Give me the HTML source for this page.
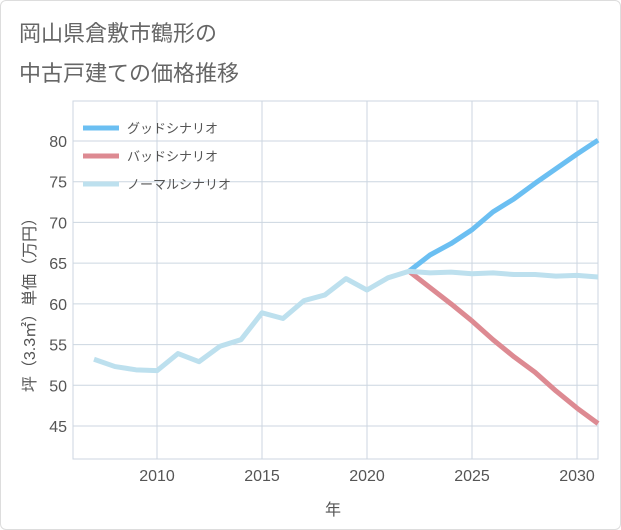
<!DOCTYPE html>
<html><head><meta charset="utf-8"><style>
body{margin:0;background:#fff;font-family:"Liberation Sans","Noto Sans CJK JP",sans-serif}
#wrap{width:619px;height:528px;border:1px solid #ddd;position:relative;border-radius:6px;overflow:hidden}
</style></head><body>
<div id="wrap">
<svg id="c" width="621" height="530">
<text x="18" y="40" font-size="22" fill="#666">岡山県倉敷市鶴形の</text>
<text x="18" y="80" font-size="22" fill="#666">中古戸建ての価格推移</text>
<g id="grid"></g><g id="series"></g><g id="legend"></g>
<text x="332" y="514" font-size="16" fill="#555" text-anchor="middle">年</text>
<text transform="translate(34,300) rotate(-90)" font-size="16" fill="#555" text-anchor="middle">坪（3.3㎡）単価（万円）</text>
</svg></div>
<script>
const years=[2007,2008,2009,2010,2011,2012,2013,2014,2015,2016,2017,2018,2019,2020,2021,2022,2023,2024,2025,2026,2027,2028,2029,2030,2031];
const normal=[53.2,52.3,51.9,51.8,53.9,52.9,54.8,55.6,58.9,58.2,60.4,61.1,63.1,61.7,63.2,64.0,63.8,63.9,63.7,63.8,63.6,63.6,63.4,63.5,63.3];
const goodYears=[2022,2023,2024,2025,2026,2027,2028,2029,2030,2031];
const good=[64.0,66.0,67.4,69.1,71.3,72.9,74.8,76.6,78.4,80.1];
const bad=[64.0,62.0,60.0,57.9,55.6,53.5,51.6,49.3,47.2,45.3];
const xTicks=[2010,2015,2020,2025,2030];
const yTicks=[45,50,55,60,65,70,75,80];
const L=72,R=597,T=100,B=458;
const x=v=>L+(v-2006)*21;
const y=v=>140+(80-v)*8.143;
const NS='http://www.w3.org/2000/svg';
function mk(p,t,a){const e=document.createElementNS(NS,t);for(const k in a)e.setAttribute(k,a[k]);p.appendChild(e);return e;}
const g=document.getElementById('grid');
const frame=mk(g,'rect',{x:L,y:T,width:R-L,height:B-T,fill:'none',stroke:'#ccd6e0'});


xTicks.forEach(t=>{
 const l=mk(g,'line',{x1:x(t),x2:x(t),y1:T,y2:B,stroke:'#ccd6e0'});
 
 
 const tx=mk(g,'text',{x:x(t),y:B+22,'font-size':16,fill:'#555','text-anchor':'middle'});tx.textContent=t;
 
 
});
yTicks.forEach(t=>{
 const l=mk(g,'line',{x1:L,x2:R,y1:y(t),y2:y(t),stroke:'#ccd6e0'});
 
 
 const tx=mk(g,'text',{x:L-6,y:y(t)+6,'font-size':16,fill:'#555','text-anchor':'end'});tx.textContent=t;
 
 
});
const s=document.getElementById('series');
function line(xs,vs,col,name){
 const p=mk(s,'polyline',{points:xs.map((v,i)=>x(v)+','+y(vs[i])).join(' '),fill:'none',stroke:col,'stroke-width':5,'stroke-linejoin':'round'});
 
 
}
line(goodYears,good,'#6bbff2','good-scenario-line');
line(goodYears,bad,'#dd8a92','bad-scenario-line');
line(years,normal,'#bde0ee','normal-scenario-line');
const lg=document.getElementById('legend');
[['グッドシナリオ','#6bbff2'],['バッドシナリオ','#dd8a92'],['ノーマルシナリオ','#bde0ee']].forEach((d,i)=>{
 const yy=127+i*28;
 const l=mk(lg,'line',{x1:82,x2:118,y1:yy,y2:yy,stroke:d[1],'stroke-width':5});
 
 
 const t=mk(lg,'text',{x:126,y:yy+5,'font-size':13,fill:'#555'});t.textContent=d[0];
 
 
});
</script></body></html>
